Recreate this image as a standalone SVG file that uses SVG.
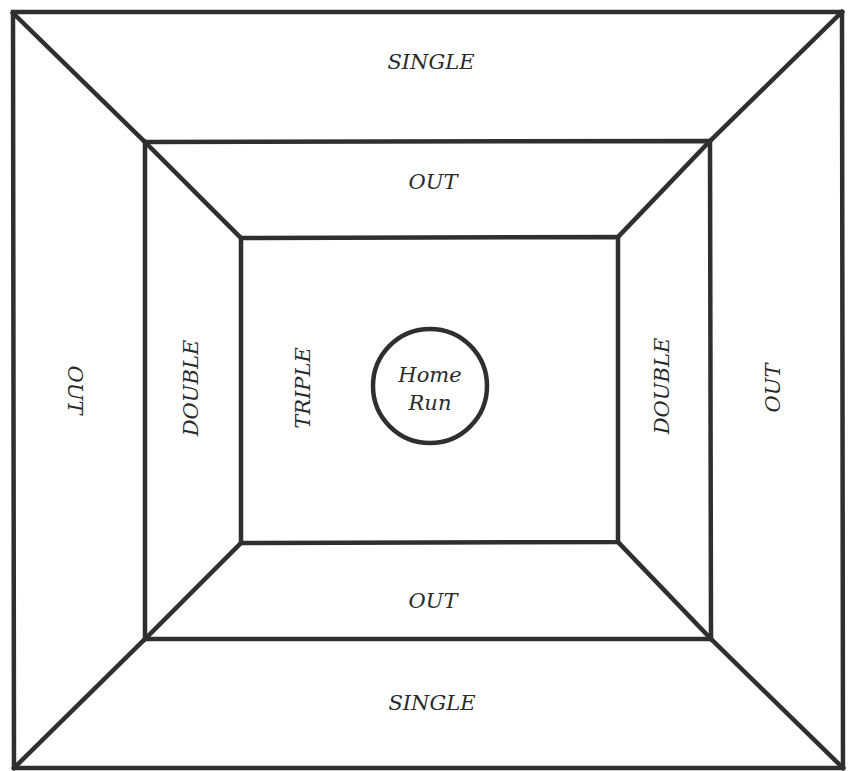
<svg xmlns="http://www.w3.org/2000/svg" width="851" height="771" viewBox="0 0 851 771">
<style>
.ln{stroke:#2f2f2f;stroke-width:4.5;fill:none;stroke-linejoin:miter;stroke-linecap:square}
.t{font-family:"DejaVu Serif","Liberation Serif",serif;font-style:italic;font-size:21px;fill:#2a2a2a;text-anchor:middle;dominant-baseline:central}
</style>
<rect width="851" height="771" fill="#fff"/>
<g id="connectors">
<line class="ln" x1="13" y1="13" x2="145" y2="142"/>
<line class="ln" x1="842" y1="12" x2="710" y2="141"/>
<line class="ln" x1="14" y1="768" x2="145" y2="639"/>
<line class="ln" x1="843" y1="768" x2="711" y2="639"/>
<line class="ln" x1="145" y1="142" x2="241" y2="238"/>
<line class="ln" x1="710" y1="141" x2="618" y2="237"/>
<line class="ln" x1="145" y1="639" x2="241" y2="543"/>
<line class="ln" x1="711" y1="639" x2="618" y2="542"/>
</g>
<g id="outer"><polygon class="ln" points="13,12 842,12 843,768 14,768"/></g>
<g id="middle"><polygon class="ln" points="145,142 710,141 711,639 145,639"/></g>
<g id="inner"><polygon class="ln" points="241,238 618,237 618,542 241,543"/></g>
<g id="home-run"><circle class="ln" cx="430" cy="386" r="57"/>
<text class="t" x="430" y="375">Home</text><text class="t" x="430" y="403">Run</text></g>
<g id="labels">
<text class="t" x="431" y="62">SINGLE</text>
<text class="t" x="433" y="182">OUT</text>
<text class="t" x="433" y="601">OUT</text>
<text class="t" x="432" y="703">SINGLE</text>
<text class="t" transform="translate(191,388) rotate(-90)">DOUBLE</text>
<text class="t" transform="translate(303,388) rotate(-90)">TRIPLE</text>
<text class="t" transform="translate(662,386) rotate(-90)">DOUBLE</text>
<text class="t" transform="translate(773,388) rotate(-90)">OUT</text>
<text class="t" transform="translate(75,390) rotate(90)">OUT</text>
</g>
</svg>
